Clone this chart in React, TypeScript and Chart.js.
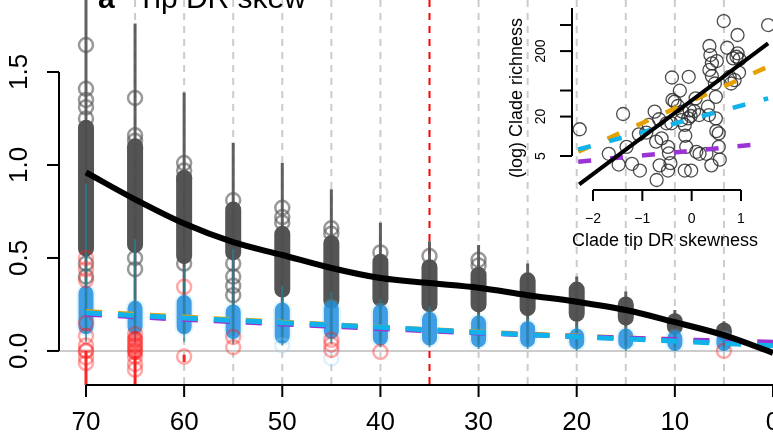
import React, { useEffect, useRef } from "react";
import { Chart, registerables } from "chart.js";
Chart.register(...registerables);

const FONT = '"Liberation Sans", Arial, Helvetica, sans-serif';

// ---------- main panel data ----------
const AGES = [70, 65, 60, 55, 50, 45, 40, 35, 30, 25, 20, 15, 10, 5];
const SPINE_TOP = [1.95, 1.76, 1.39, 1.12, 1.01, 0.87, 0.69, 0.59, 0.57, 0.47, 0.4, 0.32, 0.22, 0.16];
const SPINE_BOTTOM = [0.1, 0.1, 0.1, 0.08, 0.06, 0.08, 0.05, 0.05, 0.04, 0.04, 0.03, 0.03, 0.02, 0.02];
const DENSE_TOP = [1.2, 1.1, 0.93, 0.76, 0.63, 0.58, 0.48, 0.45, 0.41, 0.38, 0.33, 0.25, 0.16, 0.11];
const DENSE_BOTTOM = [0.55, 0.57, 0.51, 0.53, 0.33, 0.27, 0.28, 0.25, 0.25, 0.23, 0.2, 0.18, 0.13, 0.1];
const BLUE_TOP = [0.31, 0.23, 0.26, 0.21, 0.22, 0.23, 0.21, 0.17, 0.15, 0.12, 0.08, 0.08, 0.07, 0.06];
const BLUE_BOTTOM = [0.13, 0.13, 0.13, 0.105, 0.08, 0.105, 0.07, 0.07, 0.06, 0.06, 0.05, 0.05, 0.04, 0.04];
const TEAL_TOP = [0.9, 0.6, 0.45, 0.55, 0.35, 0.32, 0.28, 0.24, 0.2, 0.18, 0.14, 0.12, 0.1, 0.08];
const TEAL_BOTTOM = [0.05, 0.05, 0.05, 0.04, 0.03, 0.04, 0.02, 0.02, 0.01, 0.01, 0.0, 0.0, 0.0, 0.0];

const GREY_OUT_AGE = [70, 70, 70, 70, 70, 70, 70, 65, 65, 65, 65, 65, 65, 60, 60, 60, 60, 55, 55, 55, 55, 55, 50, 50, 50, 45, 45, 40, 35, 30, 30];
const GREY_OUT_VAL = [1.645, 1.41, 1.35, 1.31, 1.25, 0.47, 0.4, 1.36, 1.16, 1.13, 1.09, 0.5, 0.44, 1.01, 0.97, 0.93, 0.47, 0.81, 0.47, 0.4, 0.35, 0.3, 0.77, 0.72, 0.69, 0.66, 0.63, 0.53, 0.51, 0.49, 0.46];

const RED_AGE = [70, 70, 70, 70, 70, 70, 70, 70, 70, 70, 65, 65, 65, 65, 65, 65, 65, 60, 60, 55, 55, 45, 45, 45, 40, 5];
const RED_VAL = [0.5, 0.44, 0.38, 0.15, 0.08, 0.03, 0.0, 0.0, -0.035, -0.065, 0.09, 0.06, 0.03, 0.0, -0.03, -0.07, -0.1, 0.345, -0.03, 0.075, 0.02, 0.06, 0.035, 0.005, -0.005, 0.0];
const RED_SPINE_AGE = [70, 65, 60];
const RED_SPINE_TOP = [0.0, -0.03, -0.02];
const RED_SPINE_BOTTOM = [-0.183, -0.183, -0.06];
const RED_BAND_AGE = [65];
const RED_BAND_TOP = [0.07];
const RED_BAND_BOTTOM = [-0.01];
const PALE_AGE = [50, 45];
const PALE_VAL = [0.03, -0.04];

const CURVE_AGE = [70, 65, 60, 55, 50, 45, 40, 35, 30, 25, 20, 15, 10, 5, 0];
const CURVE_VAL = [0.96, 0.815, 0.685, 0.585, 0.516, 0.446, 0.392, 0.365, 0.34, 0.3, 0.265, 0.22, 0.155, 0.085, -0.01];

const TREND_AGE = [70, 60, 50, 40, 30, 20, 10, 0];
const CYAN_VAL = [0.205, 0.177, 0.152, 0.127, 0.1, 0.076, 0.053, 0.028];
const PURPLE_VAL = [0.198, 0.17, 0.145, 0.12, 0.097, 0.078, 0.061, 0.047];
const ORANGE_VAL = [0.212, 0.182, 0.155, 0.128, 0.102, 0.08, 0.06, 0.04];

const GUIDE_AGES = [65, 60, 55, 50, 45, 40, 35, 30, 25, 20, 15, 10, 5];
const RED_GUIDE_AGE = 35;
const X_TICKS = [70, 60, 50, 40, 30, 20, 10, 0];
const Y_TICKS = [0, 0.5, 1.0, 1.5];
const Y_TICK_LABELS = ["0.0", "0.5", "1.0", "1.5"];
const TITLE_LETTER = "a";
const TITLE_TEXT = "Tip DR skew";

// ---------- inset data ----------
const SKEW = [-2.27, -1.68, -1.48, -1.39, -1.32, -1.21, -1.05, -1.07, -0.92, -0.87, -0.75, -0.72, -0.71, -0.65, -0.61, -0.66, -0.48, -0.46, -0.43, -0.4, -0.48, -0.39, -0.345, -0.24, -0.28, -0.51, -0.41, -0.21, -0.19, -0.14, -0.13, -0.11, -0.14, -0.01, -0.06, -0.04, -0.02, -0.07, 0.05, 0.095, 0.16, 0.08, 0.15, 0.33, 0.35, 0.3, 0.4, 0.36, 0.38, 0.41, 0.36, 0.41, 0.51, 0.47, 0.49, 0.49, 0.5, 0.55, 0.57, 0.55, 0.65, 0.72, 0.77, 0.8, 0.84, 0.91, 0.93, 0.93, 0.96, 0.87, 1.55, 0.97];
const RICHNESS = [12.8, 5.4, 3.7, 21.9, 6.9, 3.8, 3.0, 10.7, 11.4, 14.9, 23.8, 8.3, 2.15, 3.6, 9.3, 18.2, 6.9, 5.5, 3.9, 79, 3.0, 35.8, 33.8, 49.7, 29, 15.8, 15.8, 17.7, 23.8, 14.9, 10.2, 6.9, 3.0, 3.0, 81, 25, 20.4, 18.8, 24.3, 5.8, 5.4, 38, 21.1, 28.3, 21.1, 5.4, 3.6, 239, 174, 130, 103, 83, 141, 64, 40, 18.8, 12, 11.1, 4.4, 6.9, 575, 225, 81, 64, 155, 164, 185, 352, 94, 72, 500, 150];
const FIT_SKEW = [-2.28, 1.55];
const FIT_RICH = [1.85, 263];
const ORANGE_FIT_SKEW = [-2.3, 1.55];
const ORANGE_FIT_RICH = [5.8, 116];
const CYAN_FIT_SKEW = [-2.3, 1.55];
const CYAN_FIT_RICH = [6.3, 38];
const PURPLE_FIT_SKEW = [-2.3, 1.24];
const PURPLE_FIT_RICH = [4.1, 7.4];
const INSET_X_TICKS = [-2, -1, 0, 1];
const INSET_X_LABELS = ["\u22122", "\u22121", "0", "1"];
const INSET_Y_TICKS = [5, 20, 50, 200, 500];
const INSET_Y_LABELED = [5, 20, 200];
const INSET_X_TITLE = "Clade tip DR skewness";
const INSET_Y_TITLE = "(log) Clade richness";

type Pt = { x: number; y: number | null };

function segments(xs: number[], lo: number[], hi: number[]): Pt[] {
  const out: Pt[] = [];
  xs.forEach((a, i) => {
    out.push({ x: a, y: lo[i] }, { x: a, y: hi[i] }, { x: a, y: null });
  });
  return out;
}
function pts(xs: number[], ys: number[]): Pt[] {
  return xs.map((a, i) => ({ x: a, y: ys[i] }));
}
function segDs(data: Pt[], color: string, width: number, cap: string, order: number, extra: any = {}) {
  return {
    data,
    borderColor: color,
    borderWidth: width,
    borderCapStyle: cap,
    pointRadius: 0,
    pointHoverRadius: 0,
    spanGaps: false,
    fill: false,
    tension: 0,
    order,
    clip: false,
    ...extra,
  };
}
function ptDs(data: Pt[], color: string, radius: number, bw: number, order: number) {
  return {
    data,
    showLine: false,
    borderColor: color,
    pointBorderColor: color,
    pointBackgroundColor: "rgba(0,0,0,0)",
    backgroundColor: "rgba(0,0,0,0)",
    pointRadius: radius,
    pointHoverRadius: radius,
    pointBorderWidth: bw,
    order,
    clip: false,
  };
}

function line(ctx: CanvasRenderingContext2D, x1: number, y1: number, x2: number, y2: number) {
  ctx.beginPath();
  ctx.moveTo(x1, y1);
  ctx.lineTo(x2, y2);
  ctx.stroke();
}

const mainDecor = {
  id: "mainDecor",
  beforeDatasetsDraw(chart: any) {
    const { ctx, chartArea: a, scales } = chart;
    const x = scales.x, y = scales.y;
    ctx.save();
    ctx.lineWidth = 2;
    ctx.strokeStyle = "#cccccc";
    const y0 = y.getPixelForValue(0);
    line(ctx, a.left, y0, a.right, y0);
    ctx.setLineDash([7, 6]);
    GUIDE_AGES.forEach((g) => {
      ctx.strokeStyle = g === RED_GUIDE_AGE ? "#ff0000" : "#cccccc";
      const px = x.getPixelForValue(g);
      line(ctx, px, a.top, px, a.bottom);
    });
    ctx.restore();
  },
  afterDraw(chart: any) {
    const { ctx, chartArea: a, scales } = chart;
    const x = scales.x, y = scales.y;
    ctx.save();
    ctx.strokeStyle = "#000";
    ctx.fillStyle = "#000";
    ctx.lineWidth = 2;
    line(ctx, a.left, y.getPixelForValue(Y_TICKS[0]), a.left, y.getPixelForValue(Y_TICKS[Y_TICKS.length - 1]));
    ctx.font = `26px ${FONT}`;
    ctx.textAlign = "center";
    ctx.textBaseline = "alphabetic";
    Y_TICKS.forEach((v, i) => {
      const py = y.getPixelForValue(v);
      line(ctx, a.left - 12, py, a.left, py);
      ctx.save();
      ctx.translate(27, py);
      ctx.rotate(-Math.PI / 2);
      ctx.fillText(Y_TICK_LABELS[i], 0, 0);
      ctx.restore();
    });
    line(ctx, x.getPixelForValue(X_TICKS[0]), a.bottom, x.getPixelForValue(X_TICKS[X_TICKS.length - 1]), a.bottom);
    X_TICKS.forEach((v) => {
      const px = x.getPixelForValue(v);
      line(ctx, px, a.bottom, px, a.bottom + 12);
      ctx.fillText(String(v), px, 430);
    });
    ctx.textAlign = "left";
    ctx.font = `bold 30px ${FONT}`;
    ctx.fillText(TITLE_LETTER, 98, 8);
    ctx.font = `30px ${FONT}`;
    ctx.fillText(TITLE_TEXT, 137, 8);
    ctx.restore();
  },
};

const insetDecor = {
  id: "insetDecor",
  afterDraw(chart: any) {
    const { ctx, chartArea: a, scales } = chart;
    const x = scales.x, y = scales.y;
    ctx.save();
    ctx.strokeStyle = "#000";
    ctx.fillStyle = "#000";
    ctx.lineWidth = 2;
    line(ctx, a.left, a.top, a.left, y.getPixelForValue(INSET_Y_TICKS[0]));
    ctx.font = `14px ${FONT}`;
    ctx.textAlign = "center";
    INSET_Y_TICKS.forEach((v) => {
      const py = y.getPixelForValue(v);
      line(ctx, a.left - 12, py, a.left, py);
      if (INSET_Y_LABELED.includes(v)) {
        ctx.save();
        ctx.translate(545, py);
        ctx.rotate(-Math.PI / 2);
        ctx.fillText(String(v), 0, 0);
        ctx.restore();
      }
    });
    ctx.font = `18px ${FONT}`;
    ctx.save();
    ctx.translate(522, 98);
    ctx.rotate(-Math.PI / 2);
    ctx.fillText(INSET_Y_TITLE, 0, 0);
    ctx.restore();
    line(ctx, x.getPixelForValue(INSET_X_TICKS[0]), a.bottom, x.getPixelForValue(INSET_X_TICKS[INSET_X_TICKS.length - 1]), a.bottom);
    ctx.font = `14px ${FONT}`;
    INSET_X_TICKS.forEach((v, i) => {
      const px = x.getPixelForValue(v);
      line(ctx, px, a.bottom, px, a.bottom + 11);
      ctx.fillText(INSET_X_LABELS[i], px, 223);
    });
    ctx.font = `18px ${FONT}`;
    ctx.fillText(INSET_X_TITLE, 665, 246);
    ctx.restore();
  },
};

export default function App() {
  const mainRef = useRef<HTMLCanvasElement>(null);
  const insetRef = useRef<HTMLCanvasElement>(null);

  useEffect(() => {
    document.body.style.margin = "0";
    const mainChart = new Chart(mainRef.current as HTMLCanvasElement, {
      type: "line",
      data: {
        datasets: [
          segDs(pts(CURVE_AGE, CURVE_VAL), "#000000", 6, "butt", 0, { cubicInterpolationMode: "monotone" }),
          segDs(pts(TREND_AGE, CYAN_VAL), "#12b2ea", 5, "butt", 1, { borderDash: [16, 16], cubicInterpolationMode: "monotone" }),
          segDs(pts(TREND_AGE, PURPLE_VAL), "#9a34d4", 5, "butt", 2, { borderDash: [16, 16], cubicInterpolationMode: "monotone" }),
          segDs(pts(TREND_AGE, ORANGE_VAL), "#e6a100", 5, "butt", 3, { borderDash: [16, 16], cubicInterpolationMode: "monotone" }),
          ptDs(pts(RED_AGE, RED_VAL), "rgba(255,30,30,0.38)", 7, 2.5, 4),
          ptDs(pts(PALE_AGE, PALE_VAL), "rgba(150,210,240,0.3)", 7, 2.5, 5),
          segDs(segments(RED_BAND_AGE, RED_BAND_BOTTOM, RED_BAND_TOP), "rgba(255,20,20,0.6)", 15, "round", 6),
          segDs(segments(RED_SPINE_AGE, RED_SPINE_BOTTOM, RED_SPINE_TOP), "rgba(255,0,0,0.85)", 3, "butt", 7),
          segDs(segments(AGES, TEAL_BOTTOM, TEAL_TOP), "rgba(40,130,150,0.75)", 2, "butt", 8),
          segDs(segments(AGES, BLUE_BOTTOM, BLUE_TOP), "rgba(35,142,225,0.85)", 15, "round", 9),
          segDs(segments(AGES, BLUE_BOTTOM, BLUE_TOP), "rgba(120,205,240,0.2)", 19, "round", 10),
          ptDs(pts(GREY_OUT_AGE, GREY_OUT_VAL), "rgba(85,85,85,0.6)", 7, 2.5, 11),
          segDs(segments(AGES, DENSE_BOTTOM, DENSE_TOP), "rgba(78,78,78,0.97)", 16, "round", 12),
          segDs(segments(AGES, SPINE_BOTTOM, SPINE_TOP), "rgba(80,80,80,0.9)", 3, "butt", 13),
        ] as any,
      },
      options: {
        responsive: false,
        animation: false,
        devicePixelRatio: 1,
        events: [],
        layout: { autoPadding: false, padding: { left: 59, right: 0, top: 0, bottom: 49 } },
        plugins: { legend: { display: false }, tooltip: { enabled: false }, title: { display: false } },
        scales: {
          x: { type: "linear", reverse: true, min: 0, max: 72.75, display: false },
          y: { type: "linear", min: -0.183, max: 1.887, display: false },
        },
      } as any,
      plugins: [mainDecor],
    });

    const insetChart = new Chart(insetRef.current as HTMLCanvasElement, {
      type: "line",
      data: {
        datasets: [
          segDs(pts(FIT_SKEW, FIT_RICH), "#000000", 4, "butt", 0),
          segDs(pts(CYAN_FIT_SKEW, CYAN_FIT_RICH), "#12b2ea", 4.5, "butt", 1, { borderDash: [13, 19] }),
          segDs(pts(ORANGE_FIT_SKEW, ORANGE_FIT_RICH), "#e6a100", 4.5, "butt", 2, { borderDash: [13, 19] }),
          segDs(pts(PURPLE_FIT_SKEW, PURPLE_FIT_RICH), "#9a34d4", 4.5, "butt", 3, { borderDash: [13, 19] }),
          ptDs(pts(SKEW, RICHNESS), "rgba(45,45,45,0.85)", 6.5, 1.3, 4),
        ] as any,
      },
      options: {
        responsive: false,
        animation: false,
        devicePixelRatio: 1,
        events: [],
        layout: { autoPadding: false, padding: { left: 572, right: 0, top: 8, bottom: 244 } },
        plugins: { legend: { display: false }, tooltip: { enabled: false }, title: { display: false } },
        scales: {
          x: { type: "linear", min: -2.426, max: 1.649, display: false },
          y: { type: "logarithmic", min: 1.513, max: 910, display: false },
        },
      } as any,
      plugins: [insetDecor],
    });

    return () => {
      mainChart.destroy();
      insetChart.destroy();
    };
  }, []);

  return (
    <div style={{ position: "relative", width: 773, height: 434, background: "#ffffff", overflow: "hidden" }}>
      <canvas ref={mainRef} width={773} height={434} style={{ position: "absolute", left: 0, top: 0 }} />
      <canvas ref={insetRef} width={773} height={434} style={{ position: "absolute", left: 0, top: 0, pointerEvents: "none" }} />
    </div>
  );
}
